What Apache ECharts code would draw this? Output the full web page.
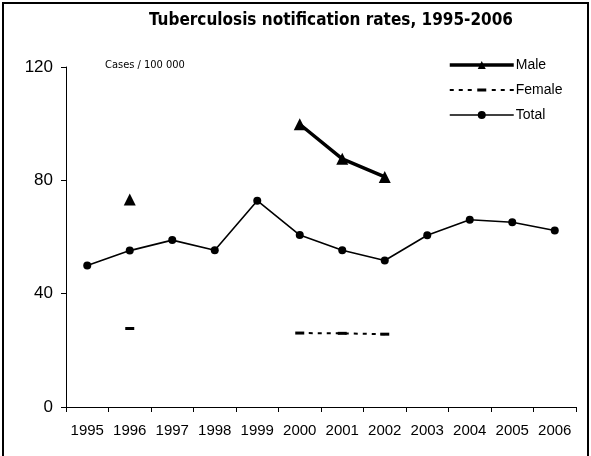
<!DOCTYPE html>
<html>
<head>
<meta charset="utf-8">
<script src="https://cdn.jsdelivr.net/npm/echarts@6/dist/echarts.min.js"></script>
<style>
  html, body { margin: 0; padding: 0; background: #fff; }
  #chart { width: 591px; height: 456px; }
</style>
</head>
<body>
<div id="chart"></div>
<script>
const years = ['1995', '1996', '1997', '1998', '1999', '2000', '2001', '2002', '2003', '2004', '2005', '2006']
const male = [null, 73.2, null, null, null, 99.8, 87.6, 81.2, null, null, null, null]
const female = [null, 27.7, null, null, null, 26.1, 26.0, 25.7, null, null, null, null]
const total = [49.9, 55.2, 58.9, 55.3, 72.8, 60.7, 55.3, 51.7, 60.6, 66.1, 65.2, 62.3]
const yTicks = [0, 40, 80, 120]

const chart = echarts.init(document.getElementById('chart'), null, { renderer: 'canvas' })

const labelFont = 'Liberation Sans, Arial, sans-serif'
const narrowFont = "'Liberation Sans Narrow', 'DejaVu Sans Condensed', sans-serif"

// dashed line with a short bar in the middle, 64 x 3
const femaleIcon = 'path://M0,0.5h4v2h-4z M9,0.5h4v2h-4z M18,0.5h4v2h-4z M27.5,0h9v3h-9z ' +
  'M42,0.5h4v2h-4z M51,0.5h4v2h-4z M60,0.5h4v2h-4z'

const option = {
  backgroundColor: '#fff',
  animation: false,
  title: {
    text: 'Tuberculosis notification rates, 1995-2006',
    left: 326,
    textAlign: 'center',
    top: 7,
    textStyle: {
      fontFamily: narrowFont,
      fontWeight: 'bold',
      fontSize: 17,
      color: '#000'
    }
  },
  legend: {
    orient: 'vertical',
    left: 443,
    top: 53,
    itemWidth: 64,
    itemHeight: 10,
    itemGap: 11,
    data: [
      { name: 'Male', lineStyle: { width: 3.5, color: '#000' } },
      { name: 'Female', icon: femaleIcon, itemStyle: { color: '#000' } },
      { name: 'Total', lineStyle: { width: 1.6, color: '#000' } }
    ],
    textStyle: {
      fontFamily: labelFont,
      fontSize: 14,
      color: '#000',
      padding: [0, 0, 0, -3]
    }
  },
  graphic: [
    {
      type: 'rect',
      shape: { x: 3, y: 3, width: 585, height: 480 },
      style: { fill: 'none', stroke: '#000', lineWidth: 2 },
      silent: true
    },
    {
      type: 'text',
      left: 105,
      top: 60,
      style: {
        text: 'Cases / 100 000',
        font: '11px ' + narrowFont,
        fill: '#000'
      }
    }
  ],
  grid: {
    left: 66,
    right: 15,
    top: 67,
    bottom: 49,
    containLabel: false
  },
  xAxis: {
    type: 'category',
    data: years,
    boundaryGap: true,
    axisLine: { lineStyle: { color: '#000', width: 1 } },
    axisTick: { show: true, inside: false, length: 5, lineStyle: { color: '#000' } },
    axisLabel: {
      color: '#000',
      fontFamily: labelFont,
      fontSize: 15,
      margin: 16,
      interval: 0
    },
    splitLine: { show: false }
  },
  yAxis: {
    type: 'value',
    min: yTicks[0],
    max: yTicks[yTicks.length - 1],
    interval: 40,
    axisLine: { show: true, lineStyle: { color: '#000', width: 1 } },
    axisTick: { show: true, inside: false, length: 5, lineStyle: { color: '#000' } },
    axisLabel: {
      color: '#000',
      fontFamily: labelFont,
      fontSize: 17,
      margin: 13
    },
    splitLine: { show: false }
  },
  series: [
    {
      name: 'Male',
      type: 'line',
      data: male,
      connectNulls: false,
      symbol: 'triangle',
      symbolSize: 12,
      lineStyle: { color: '#000', width: 3.5 },
      itemStyle: { color: '#000' },
      z: 3
    },
    {
      name: 'Female',
      type: 'line',
      data: female,
      connectNulls: false,
      symbol: 'rect',
      symbolSize: [9, 3],
      lineStyle: { color: '#000', width: 2, type: [4, 5] },
      itemStyle: { color: '#000' },
      z: 3
    },
    {
      name: 'Total',
      type: 'line',
      data: total,
      symbol: 'circle',
      symbolSize: 8,
      lineStyle: { color: '#000', width: 1.6 },
      itemStyle: { color: '#000' },
      z: 2
    }
  ]
}

chart.setOption(option)

window.addEventListener('resize', () => {
  chart?.resize()
})
</script>
</body>
</html>
